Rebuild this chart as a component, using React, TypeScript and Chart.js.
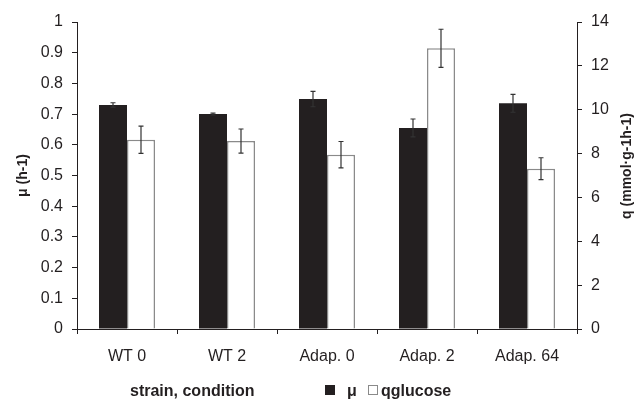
import React, { useEffect, useRef } from 'react';
import { Chart, registerables } from 'chart.js';

Chart.register(...registerables);

const categories = ['WT 0', 'WT 2', 'Adap. 0', 'Adap. 2', 'Adap. 64'];
const muValues = [0.73, 0.70, 0.749, 0.655, 0.735];
const muErrors = [0.007, 0.003, 0.025, 0.029, 0.029];
const qValues = [8.63, 8.57, 7.95, 12.8, 7.31];
const qErrors = [0.62, 0.55, 0.6, 0.87, 0.5];
const seriesNames = ['μ', 'qglucose'];
const axisTitles = ['μ (h-1)', 'q (mmol·g-1h-1)', 'strain, condition'];

const FONT = "'Liberation Sans', Arial, Helvetica, sans-serif";
const INK = '#231f20';
const GREY = '#8a8a8a';

const errorBarPlugin = {
  id: 'errorBars',
  afterDatasetsDraw(chart: any) {
    const ctx = chart.ctx;
    const errs = [muErrors, qErrors];
    chart.data.datasets.forEach((ds: any, i: number) => {
      const meta = chart.getDatasetMeta(i);
      const scale = chart.scales[ds.yAxisID];
      meta.data.forEach((bar: any, j: number) => {
        const v = ds.data[j];
        const e = errs[i][j];
        const x = bar.x;
        const yt = scale.getPixelForValue(v + e);
        const yb = scale.getPixelForValue(v - e);
        ctx.save();
        ctx.strokeStyle = '#333';
        ctx.lineWidth = 1.2;
        ctx.beginPath();
        ctx.moveTo(x, yt);
        ctx.lineTo(x, yb);
        ctx.moveTo(x - 2.5, yt);
        ctx.lineTo(x + 2.5, yt);
        ctx.moveTo(x - 2.5, yb);
        ctx.lineTo(x + 2.5, yb);
        ctx.stroke();
        ctx.restore();
      });
    });
  },
};

const textPlugin = {
  id: 'extraText',
  afterDraw(chart: any) {
    const ctx = chart.ctx;
    ctx.save();
    ctx.fillStyle = INK;
    ctx.font = `bold 16px ${FONT}`;
    ctx.textBaseline = 'alphabetic';
    ctx.textAlign = 'left';
    ctx.fillText(axisTitles[2], 130, 396);
    // legend
    ctx.fillStyle = INK;
    ctx.fillRect(325, 385, 10, 10);
    ctx.fillText(seriesNames[0], 347, 396);
    ctx.strokeStyle = GREY;
    ctx.lineWidth = 1;
    ctx.fillStyle = '#fff';
    ctx.fillRect(368.5, 385.5, 9, 9);
    ctx.strokeRect(368.5, 385.5, 9, 9);
    ctx.fillStyle = INK;
    ctx.fillText(seriesNames[1], 381, 396);
    // right axis title (reads bottom to top)
    ctx.font = `bold 14px ${FONT}`;
    ctx.translate(627, 166);
    ctx.rotate(-Math.PI / 2);
    ctx.textAlign = 'center';
    ctx.textBaseline = 'middle';
    ctx.fillText(axisTitles[1], 0, 0);
    ctx.restore();
  },
};

const fmt = (v: any) => String(Number(Number(v).toFixed(2)));

export default function App() {
  const ref = useRef<HTMLCanvasElement | null>(null);
  useEffect(() => {
    if (!ref.current) return;
    const tickFont = { family: FONT, size: 16 };
    const chart = new Chart(ref.current, {
      type: 'bar',
      data: {
        labels: categories,
        datasets: [
          {
            label: seriesNames[0],
            data: muValues,
            yAxisID: 'y',
            backgroundColor: INK,
            borderWidth: 0,
            barPercentage: 1,
            categoryPercentage: 0.56,
          },
          {
            label: seriesNames[1],
            data: qValues,
            yAxisID: 'y1',
            backgroundColor: '#ffffff',
            borderColor: GREY,
            borderWidth: 1.5,
            borderSkipped: 'bottom',
            barPercentage: 1,
            categoryPercentage: 0.56,
          },
        ],
      },
      options: {
        responsive: false,
        animation: false,
        layout: { padding: { top: 22, left: 0, right: 0, bottom: 0 } },
        plugins: {
          legend: { display: false },
          tooltip: { enabled: false },
        },
        scales: {
          x: {
            offset: true,
            grid: { display: true, drawOnChartArea: false, drawTicks: true, tickLength: 5, color: INK, offset: true },
            border: { display: true, color: INK, width: 1 },
            ticks: { font: tickFont, color: INK, padding: 13, maxRotation: 0 },
            afterFit: (s: any) => { s.height = 71; },
          },
          y: {
            position: 'left',
            min: 0,
            max: 1,
            ticks: { stepSize: 0.1, font: tickFont, color: INK, padding: 9, callback: fmt },
            grid: { drawOnChartArea: false, drawTicks: true, tickLength: 5, color: INK },
            border: { display: true, color: INK, width: 1 },
            title: {
              display: true,
              text: axisTitles[0],
              font: { family: FONT, size: 14, weight: 'bold' },
              color: INK,
              padding: { top: 14.6, bottom: 0 },
            },
            afterFit: (s: any) => { s.width = 77; },
          },
          y1: {
            position: 'right',
            min: 0,
            max: 14,
            ticks: { stepSize: 2, font: tickFont, color: INK, padding: 9, callback: fmt },
            grid: { drawOnChartArea: false, drawTicks: true, tickLength: 5, color: INK },
            border: { display: true, color: INK, width: 1 },
            afterFit: (s: any) => { s.width = 57; },
          },
        },
      },
      plugins: [errorBarPlugin, textPlugin],
    } as any);
    return () => chart.destroy();
  }, []);
  return (
    <div style={{ position: 'fixed', left: 0, top: 0, width: 634, height: 400, background: '#fff' }}>
      <canvas ref={ref} width={634} height={400} />
    </div>
  );
}
